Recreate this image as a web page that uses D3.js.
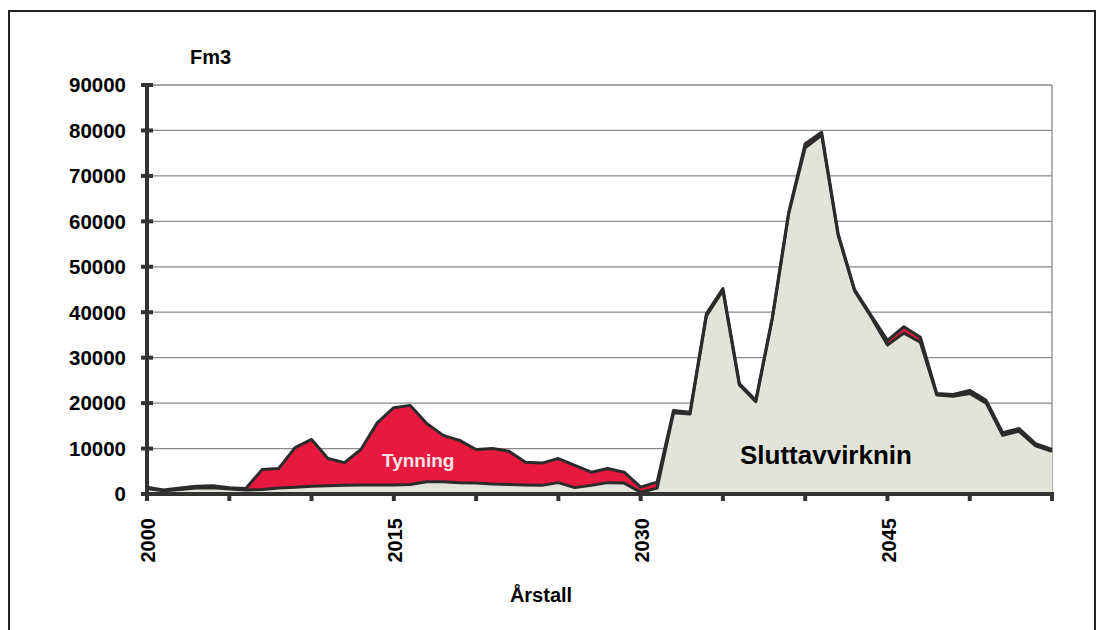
<!DOCTYPE html>
<meta charset="utf-8">
<style>
  body { margin: 0; background: #fff; }
  text { font-family: "Liberation Sans", Arial, sans-serif; font-weight: bold; }
  .grid line { stroke: #8a8a8a; stroke-width: 1.3; }
  .outline { fill: none; stroke: #2b2b2b; stroke-width: 3; stroke-linejoin: round; }
</style>
<body></body>
<script src="https://d3js.org/d3.v7.min.js"></script>
<script>
  // years 2000..2055
  var years = d3.range(2000, 2056);

  // Fm3 per year
  var sluttavvirkning = [
    1200, 700, 1000, 1300, 1400, 1100, 900, 1000, 1300, 1500,
    1700, 1800, 1900, 2000, 2000, 2000, 2100, 2700, 2700, 2500,
    2400, 2200, 2100, 2000, 1900, 2500, 1400, 1900, 2500, 2400,
    400, 1300, 17900, 17600, 39200, 44800, 24000, 20300, 38500, 61700,
    76200, 79000, 57000, 44700, 39000, 32800, 35400, 33400, 21800, 21500,
    22100, 20000, 12900, 13800, 10600, 9400
  ];
  var tynning = [
    300, 200, 300, 400, 400, 300, 300, 4400, 4300, 8700,
    10300, 6000, 5000, 7800, 13700, 17000, 17400, 12800, 10200, 9300,
    7400, 7800, 7300, 5000, 4900, 5300, 4900, 2900, 3100, 2400,
    1100, 1300, 500, 400, 500, 400, 300, 300, 300, 300,
    900, 600, 300, 300, 300, 1000, 1400, 1100, 300, 400,
    700, 600, 600, 600, 500, 400
  ];
  var yTicks = d3.range(0, 90001, 10000);
  var xLabelYears = [2000, 2015, 2030, 2045];
  var xTickYears = d3.range(2000, 2056, 5);

  var W = 1103, H = 630;
  var plot = {left: 147, right: 1052, top: 85, bottom: 494};

  var svg = d3.select("body").append("svg")
    .attr("width", W).attr("height", H);

  // outer frame
  svg.append("rect")
    .attr("x", 9).attr("y", 11).attr("width", 1086).attr("height", 660)
    .attr("fill", "none").attr("stroke", "#222").attr("stroke-width", 2);

  var x = d3.scaleLinear().domain([2000, 2055]).range([plot.left, plot.right]);
  var y = d3.scaleLinear().domain([0, 90000]).range([plot.bottom, plot.top]);

  // gridlines
  svg.append("g").attr("class", "grid")
    .selectAll("line").data(yTicks.slice(1)).enter().append("line")
    .attr("x1", plot.left).attr("x2", plot.right)
    .attr("y1", function(d) { return y(d); })
    .attr("y2", function(d) { return y(d); });

  // right border of plot
  svg.append("line")
    .attr("x1", plot.right).attr("x2", plot.right)
    .attr("y1", plot.top).attr("y2", plot.bottom)
    .attr("stroke", "#8a8a8a").attr("stroke-width", 1.3);

  var rows = years.map(function(yr, i) {
    return {year: yr, slutt: sluttavvirkning[i], tyn: tynning[i]};
  });
  var stack = d3.stack().keys(["slutt", "tyn"]);
  var layers = stack(rows);
  var colors = {slutt: "#e3e4d9", tyn: "#e8193f"};

  var area = d3.area()
    .x(function(d) { return x(d.data.year); })
    .y0(function(d) { return y(d[0]); })
    .y1(function(d) { return y(d[1]); });
  var topLine = d3.line()
    .x(function(d) { return x(d.data.year); })
    .y(function(d) { return y(d[1]); });

  svg.selectAll(".layer").data(layers).enter().append("path")
    .attr("class", "layer")
    .attr("fill", function(d) { return colors[d.key]; })
    .attr("d", area);

  svg.selectAll(".outline").data(layers).enter().append("path")
    .attr("class", "outline")
    .attr("d", topLine);

  // y axis
  var yAxis = svg.append("g");
  yAxis.append("line")
    .attr("x1", plot.left).attr("x2", plot.left)
    .attr("y1", plot.top - 2).attr("y2", plot.bottom + 2)
    .attr("stroke", "#333").attr("stroke-width", 4);
  yAxis.selectAll(".tk").data(yTicks).enter().append("line")
    .attr("x1", plot.left - 6).attr("x2", plot.left + 6)
    .attr("y1", function(d) { return y(d); })
    .attr("y2", function(d) { return y(d); })
    .attr("stroke", "#333").attr("stroke-width", 4);
  yAxis.selectAll("text").data(yTicks).enter().append("text")
    .attr("x", 126)
    .attr("y", function(d) { return y(d); })
    .attr("dy", "0.36em")
    .attr("text-anchor", "end")
    .attr("font-size", 20.5)
    .text(function(d) { return d; });

  // x axis
  var xAxis = svg.append("g");
  xAxis.append("line")
    .attr("x1", plot.left - 2).attr("x2", plot.right + 2)
    .attr("y1", plot.bottom).attr("y2", plot.bottom)
    .attr("stroke", "#333").attr("stroke-width", 4);
  xAxis.selectAll(".tk").data(xTickYears.concat([2055])).enter().append("line")
    .attr("x1", function(d) { return x(d); })
    .attr("x2", function(d) { return x(d); })
    .attr("y1", plot.bottom).attr("y2", plot.bottom + 7)
    .attr("stroke", "#333").attr("stroke-width", 4);
  xAxis.selectAll("text").data(xLabelYears).enter().append("text")
    .attr("transform", function(d) { return "translate(" + (x(d) + 1) + ",518) rotate(-90)"; })
    .attr("dy", "0.36em")
    .attr("text-anchor", "end")
    .attr("font-size", 20)
    .text(function(d) { return d; });

  // titles
  svg.append("text").attr("x", 190).attr("y", 64)
    .attr("font-size", 20).text("Fm3");
  svg.append("text").attr("x", 541).attr("y", 602)
    .attr("text-anchor", "middle").attr("font-size", 20).text("Årstall");

  // series labels
  svg.append("text").attr("x", 382).attr("y", 467)
    .attr("font-size", 19).attr("fill", "#f4e4e4").text("Tynning");
  svg.append("text").attr("x", 740).attr("y", 464)
    .attr("font-size", 26).attr("fill", "#000").text("Sluttavvirknin");
</script>
